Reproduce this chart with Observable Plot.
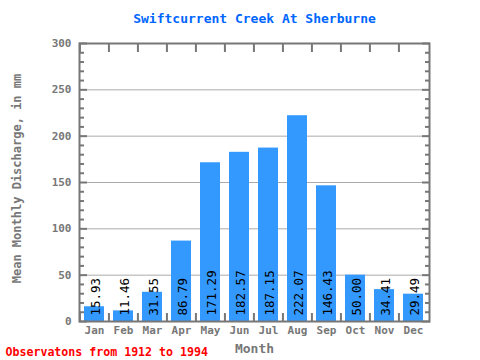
<!DOCTYPE html>
<html>
<head>
<meta charset="utf-8">
<script src="https://cdn.jsdelivr.net/npm/d3@7"></script>
<script src="https://cdn.jsdelivr.net/npm/@observablehq/plot@0.6"></script>
<style>
  html, body { margin: 0; padding: 0; background: #fff; }
</style>
</head>
<body>
<div id="chart"></div>
<script>
const months = ["Jan","Feb","Mar","Apr","May","Jun","Jul","Aug","Sep","Oct","Nov","Dec"];
const values = [15.93, 11.46, 31.55, 86.79, 171.29, 182.57, 187.15, 222.07, 146.43, 50.00, 34.41, 29.49];
const yTicks = [0, 50, 100, 150, 200, 250, 300];
const titleText = "Swiftcurrent Creek At Sherburne";
const yLabelText = "Mean Monthly Discharge, in mm";
const xLabelText = "Month";
const captionText = "Observatons from 1912 to 1994";

const data = months.map((m, i) => ({month: m, value: values[i]}));

const W = 480, H = 360;
const mL = 79, mR = 51, mT = 43, mB = 39;
const step = (W - mL - mR) / months.length;
const minor = d3.range(0, 301, 10).filter(v => v % 50 !== 0);
const gray = "#777";
const font = "'DejaVu Sans Mono', monospace";

const chart = Plot.plot({
  width: W,
  height: H,
  marginLeft: mL,
  marginRight: mR,
  marginTop: mT,
  marginBottom: mB,
  style: {fontFamily: font, fontWeight: "bold", fontSize: "11px", background: "#fff", color: gray},
  x: {domain: months, paddingInner: 0.31, paddingOuter: 0.155, label: null},
  y: {domain: [0, 300], label: null},
  marks: [
    Plot.gridY(yTicks.filter(v => v > 0 && v < 300), {stroke: "#aaa", strokeOpacity: 1, strokeWidth: 1}),
    Plot.barY(data, {x: "month", y: "value", fill: "#3399ff"}),
    Plot.text(data, {x: "month", y: () => 0, text: d => d.value.toFixed(2), rotate: -90, textAnchor: "start", dy: -6, dx: 1, fill: "black", fontWeight: "normal", fontSize: 12.5}),
    // minor & major ticks inside frame
    Plot.axisY({anchor: "left", ticks: minor, tickSize: -5, tickFormat: () => "", stroke: gray, strokeWidth: 2, label: null}),
    Plot.axisY({anchor: "right", ticks: minor, tickSize: -5, tickFormat: () => "", stroke: gray, strokeWidth: 2, label: null}),
    Plot.axisY({anchor: "left", ticks: yTicks, tickSize: -8, tickFormat: () => "", stroke: gray, strokeWidth: 2, label: null}),
    Plot.axisY({anchor: "right", ticks: yTicks, tickSize: -8, tickFormat: () => "", stroke: gray, strokeWidth: 2, label: null}),
    Plot.axisY({anchor: "left", ticks: yTicks, tickSize: 0, tickPadding: 8, fill: gray, label: null}),
    // boundary ticks between months
    Plot.axisX({anchor: "top", tickSize: -8, dx: -step / 2, tickFormat: () => "", stroke: gray, strokeWidth: 2, label: null}),
    Plot.axisX({anchor: "bottom", tickSize: -8, dx: -step / 2, tickFormat: () => "", stroke: gray, strokeWidth: 2, label: null}),
    Plot.axisX({anchor: "bottom", tickSize: 0, tickPadding: 5, fill: gray, label: null}),
    Plot.frame({stroke: gray, strokeWidth: 2}),
    Plot.text([titleText], {frameAnchor: "top", lineAnchor: "middle", dy: -25, fill: "#0066ff", fontSize: 13}),
    Plot.text([xLabelText], {frameAnchor: "bottom", lineAnchor: "middle", dy: 27, fill: gray, fontSize: 13}),
    Plot.text([yLabelText], {frameAnchor: "left", textAnchor: "middle", lineAnchor: "middle", dx: -62, dy: -4, rotate: -90, fill: gray, fontSize: 12}),
    Plot.text([captionText], {frameAnchor: "bottom-left", textAnchor: "start", lineAnchor: "middle", dx: -74, dy: 31, fill: "red", fontSize: 11.6})
  ]
});
document.getElementById("chart").appendChild(chart);
</script>
</body>
</html>
